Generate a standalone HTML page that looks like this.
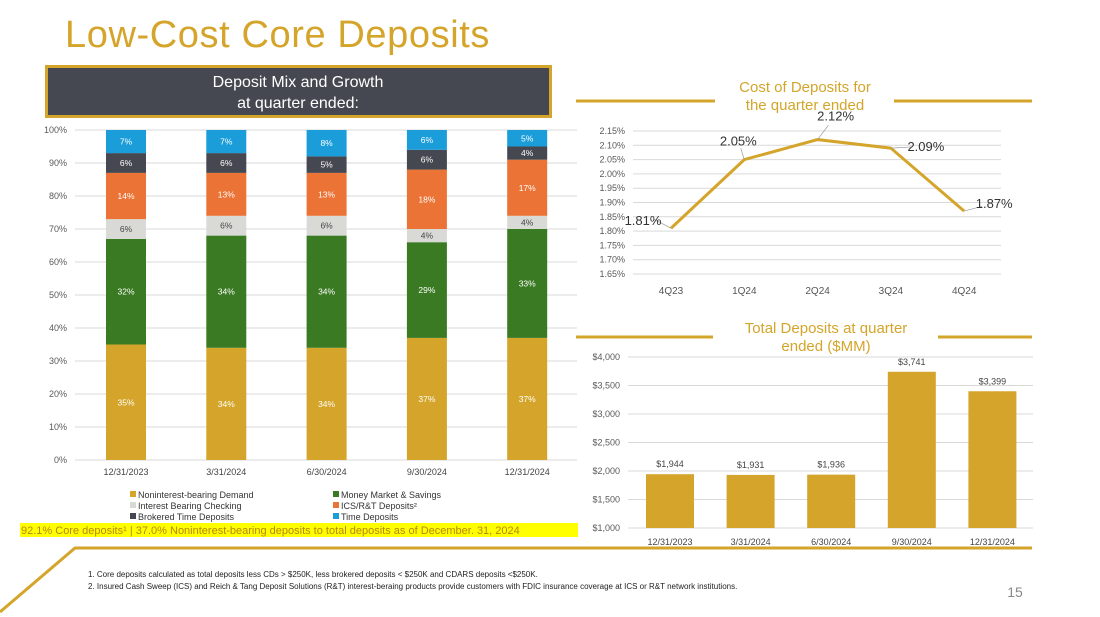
<!DOCTYPE html>
<html><head><meta charset="utf-8"><style>
html,body{margin:0;padding:0;background:#fff;}
svg{display:block;font-family:"Liberation Sans",sans-serif;}
</style></head><body>
<svg id="page" width="1100" height="617" viewBox="0 0 1100 617">
<text x="65" y="47" font-size="38" letter-spacing="0.6" fill="#D4A52A">Low-Cost Core Deposits</text>
<g>
<rect x="46.5" y="66.5" width="504" height="50" fill="#454850" stroke="#D4A52A" stroke-width="3"/>
<text x="298" y="87" font-size="16" fill="#fff" text-anchor="middle">Deposit Mix and Growth</text>
<text x="298" y="108" font-size="16" fill="#fff" text-anchor="middle">at quarter ended:</text>
</g>
<g id="mix"></g>
<g id="legend"></g>
<rect x="20" y="523" width="558" height="14" fill="#FFFF00"/>
<text x="21" y="534" font-size="11" fill="#B8860B">92.1% Core deposits¹ | 37.0% Noninterest-bearing deposits to total deposits as of December. 31, 2024</text>
<g>
<line x1="576" y1="101" x2="715" y2="101" stroke="#D4A52A" stroke-width="3"/>
<line x1="894" y1="101" x2="1032" y2="101" stroke="#D4A52A" stroke-width="3"/>
<text x="805" y="92" font-size="15" fill="#D4A52A" text-anchor="middle">Cost of Deposits for</text>
<text x="805" y="110" font-size="15" fill="#D4A52A" text-anchor="middle">the quarter ended</text>
</g>
<g id="cost"></g>
<g>
<line x1="576" y1="337" x2="713" y2="337" stroke="#D4A52A" stroke-width="3"/>
<line x1="938" y1="337" x2="1032" y2="337" stroke="#D4A52A" stroke-width="3"/>
<text x="826" y="333" font-size="15" fill="#D4A52A" text-anchor="middle">Total Deposits at quarter</text>
<text x="826" y="351" font-size="15" fill="#D4A52A" text-anchor="middle">ended ($MM)</text>
</g>
<g id="total"></g>
<g>
<polyline points="0,612 75,548 1032,548" fill="none" stroke="#D4A52A" stroke-width="3"/>
</g>
<text x="88" y="577" font-size="8" fill="#222">1.    Core deposits calculated as total deposits less CDs &gt; $250K, less brokered deposits &lt; $250K and CDARS deposits &lt;$250K.</text>
<text x="88" y="589" font-size="8" fill="#222">2.    Insured Cash Sweep (ICS) and Reich &amp; Tang Deposit Solutions (R&amp;T) interest-beraing products provide customers with FDIC insurance coverage at ICS or R&amp;T network institutions.</text>
<text x="1015" y="597" font-size="14" fill="#888" text-anchor="middle">15</text>
</svg>
<script>
const NS="http://www.w3.org/2000/svg";
const mixDates=["12/31/2023","3/31/2024","6/30/2024","9/30/2024","12/31/2024"];
const nibDemand=[35,34,34,37,37];
const mmSavings=[32,34,34,29,33];
const ibChecking=[6,6,6,4,4];
const icsRt=[14,13,13,18,17];
const brokered=[6,6,5,6,4];
const timeDep=[7,7,8,6,5];
const mixTicks=[0,10,20,30,40,50,60,70,80,90,100];
const costQuarters=["4Q23","1Q24","2Q24","3Q24","4Q24"];
const costValues=[1.81,2.05,2.12,2.09,1.87];
const costTicks=[1.65,1.70,1.75,1.80,1.85,1.90,1.95,2.00,2.05,2.10,2.15];
const totalDates=["12/31/2023","3/31/2024","6/30/2024","9/30/2024","12/31/2024"];
const totalValues=[1944,1931,1936,3741,3399];
const totalTicks=[1000,1500,2000,2500,3000,3500,4000];

function el(p,tag,a,txt){const e=document.createElementNS(NS,tag);for(const k in a)e.setAttribute(k,a[k]);if(txt!==undefined)e.textContent=txt;p.appendChild(e);return e;}

const mix=document.getElementById('mix');
const mY=v=>460-v*3.3, mX=i=>126+i*100.3;
mixTicks.forEach(t=>{
  const g=el(mix,'line',{x1:75,x2:577,y1:mY(t),y2:mY(t),stroke:'#D9D9D9','stroke-width':1});
  
  
  const l=el(mix,'text',{x:67,y:mY(t)+3,'font-size':9,fill:'#595959','text-anchor':'end'},t+'%');
  
  
});
const series=[
 {name:'nib',vals:nibDemand,color:'#D4A52A',tc:'#fff',label:'Noninterest-bearing Demand'},
 {name:'mm',vals:mmSavings,color:'#3A7A23',tc:'#fff',label:'Money Market & Savings'},
 {name:'ibc',vals:ibChecking,color:'#D9D9D6',tc:'#444',label:'Interest Bearing Checking'},
 {name:'ics',vals:icsRt,color:'#EA7335',tc:'#fff',label:'ICS/R&T Deposits²'},
 {name:'brokered',vals:brokered,color:'#454850',tc:'#fff',label:'Brokered Time Deposits'},
 {name:'time',vals:timeDep,color:'#1B9DD9',tc:'#fff',label:'Time Deposits'}];
mixDates.forEach((d,i)=>{
  let cum=0;
  series.forEach(s=>{
    const v=s.vals[i];
    const r=el(mix,'rect',{x:mX(i)-20,y:mY(cum+v),width:40,height:v*3.3,fill:s.color});
    
    
    const t=el(mix,'text',{x:mX(i),y:mY(cum+v/2)+3,'font-size':8.5,fill:s.tc,'text-anchor':'middle'},v+'%');
    
    
    cum+=v;
  });
  const xl=el(mix,'text',{x:mX(i),y:475,'font-size':9,fill:'#444','text-anchor':'middle'},d);
  
  
});
const leg=document.getElementById('legend');
const lpos=[[130,498],[333,498],[130,509],[333,509],[130,520],[333,520]];
series.forEach((s,k)=>{
  const [x,y]=lpos[k];
  const r=el(leg,'rect',{x:x,y:y-7,width:6,height:6,fill:s.color});
  
  
  const t=el(leg,'text',{x:x+8,y:y,'font-size':9,fill:'#333'},s.label);
  
  
});

const cost=document.getElementById('cost');
const cY=v=>274-(v-1.65)/0.5*143, cX=i=>671+i*73.3;
costTicks.forEach(t=>{
  const g=el(cost,'line',{x1:633,x2:1001,y1:cY(t),y2:cY(t),stroke:'#D9D9D9','stroke-width':1});
  
  
  const l=el(cost,'text',{x:625,y:cY(t)+3,'font-size':9,fill:'#595959','text-anchor':'end'},t.toFixed(2)+'%');
  
  
});
const pl=el(cost,'polyline',{points:costValues.map((v,i)=>cX(i)+','+cY(v)).join(' '),fill:'none',stroke:'#D4A52A','stroke-width':3});


const offs=[[-28,-8],[-6,-19],[18,-24],[35,-2],[30,-8]];
costValues.forEach((v,i)=>{
  const x=cX(i),y=cY(v),o=offs[i];
  const ln=el(cost,'line',{x1:x,y1:y,x2:x+o[0]*0.6,y2:y+o[1]*0.6+(i==0?-4:0),stroke:'#999','stroke-width':0.7});
  
  
  const t=el(cost,'text',{x:x+o[0],y:y+o[1]+5,'font-size':13,fill:'#333','text-anchor':'middle'},v.toFixed(2)+'%');
  
  
  const xl=el(cost,'text',{x:x,y:294,'font-size':10,fill:'#555','text-anchor':'middle'},costQuarters[i]);
  
  
});

const tot=document.getElementById('total');
const tY=v=>528-(v-1000)/3000*171, tX=i=>670+i*80.6;
totalTicks.forEach(t=>{
  const g=el(tot,'line',{x1:628,x2:1033,y1:tY(t),y2:tY(t),stroke:'#D9D9D9','stroke-width':1});
  
  
  const l=el(tot,'text',{x:620,y:tY(t)+3,'font-size':9,fill:'#595959','text-anchor':'end'},'$'+t.toLocaleString('en-US'));
  
  
});
totalValues.forEach((v,i)=>{
  const r=el(tot,'rect',{x:tX(i)-24,y:tY(v),width:48,height:528-tY(v),fill:'#D4A52A'});
  
  
  const t=el(tot,'text',{x:tX(i),y:tY(v)-7,'font-size':9,fill:'#444','text-anchor':'middle'},'$'+v.toLocaleString('en-US'));
  
  
  const xl=el(tot,'text',{x:tX(i),y:545,'font-size':9,fill:'#444','text-anchor':'middle'},totalDates[i]);
  
  
});
</script>
</body></html>
